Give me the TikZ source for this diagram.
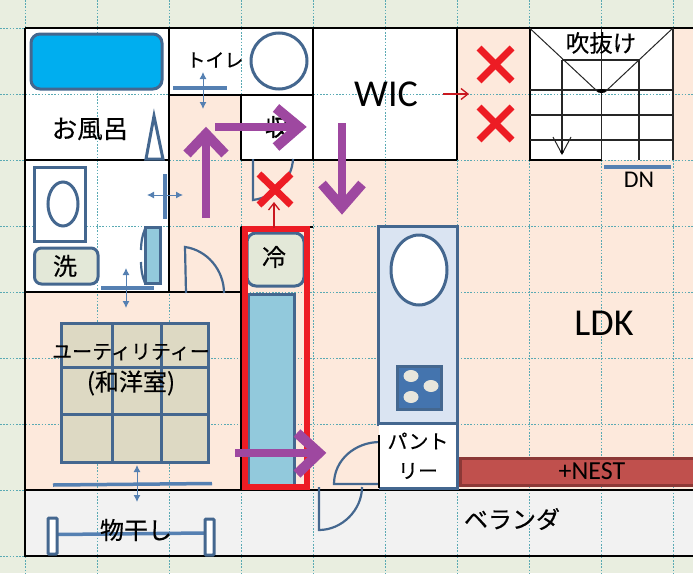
\documentclass[tikz,border=0pt]{standalone}
\usepackage{fontspec}
\setmainfont{Carlito}
\newfontfamily\jp[RawFeature={embolden=0.35}]{Noto Sans CJK JP}
\usetikzlibrary{arrows.meta}
\definecolor{bgc}{HTML}{E9EEE0}
\definecolor{peach}{HTML}{FDE9DC}
\definecolor{veranda}{HTML}{F2F2F2}
\definecolor{gridc}{HTML}{5AAAB4}
\definecolor{steel}{HTML}{44678F}
\definecolor{ablue}{HTML}{5580B2}
\definecolor{purp}{HTML}{9E48A0}
\definecolor{redx}{HTML}{ED1C24}
\definecolor{tub}{HTML}{00AEEF}
\definecolor{ltblue}{HTML}{92C9DC}
\definecolor{beige}{HTML}{E3E8D8}
\definecolor{tatami}{HTML}{DDD9C3}
\definecolor{kitch}{HTML}{DAE4F2}
\definecolor{stove}{HTML}{4474AE}
\definecolor{nest}{HTML}{C0504D}
\definecolor{nestd}{HTML}{8C3836}
\definecolor{burner}{HTML}{E8E6DC}
\tikzset{
  x=1pt,y=-1pt,
  wall/.style={draw=black,line width=2pt},
  gridline/.style={draw=gridc,line width=0.6pt,dash pattern=on 1.6pt off 1.6pt},
  fixture/.style={draw=steel,line width=3pt},
  thinblue/.style={draw=steel,line width=2.2pt},
  bluebar/.style={draw=ablue,line width=3.5pt},
  twoway/.style={draw=ablue,line width=1pt,{Latex[length=7pt,width=7pt]}-{Latex[length=7pt,width=7pt]}},
  purple/.style={draw=purp,line width=7.5pt},
  purplehead/.style={draw=purp,line width=10pt,miter limit=10},
  cross/.style={draw=redx,line width=7pt},
  stairline/.style={draw=black!85,line width=1.4pt},
  stairdiag/.style={draw=black!85,line width=1pt},
  redarrow/.style={draw=redx!85!black,line width=1.3pt,-{Straight Barb[length=7pt,width=11pt]}},
  lab/.style={inner sep=0pt,text=black,font=\jp\fontsize{#1}{#1}\selectfont},
  lat/.style={inner sep=0pt,text=black,font=\fontsize{#1}{#1}\selectfont}
}
\begin{document}
\begin{tikzpicture}
\useasboundingbox (0,0) rectangle (693,573);
% backgrounds
\fill[bgc] (0,0) rectangle (693,573);
\fill[peach] (25,28) rectangle (693,490);
\fill[white] (25,28) rectangle (169,292);
\fill[white] (169,28) rectangle (313,94.5);
\fill[white] (241,94.5) rectangle (457,160);
\fill[white] (313,28) rectangle (457,160);
\fill[white] (529,28) rectangle (673,160);
\fill[veranda] (25,490) rectangle (693,556);
% dotted grid
\foreach \gx in {25,97.5,169,241,313,385.5,457.5,529.5,601.5,673}
  \draw[gridline] (\gx,0) -- (\gx,573);
\foreach \gy in {28,94.5,160,226.5,292.5,358.5,424.5,490.5,556}
  \draw[gridline] (0,\gy) -- (693,\gy);
% walls
\draw[wall] (25,28) -- (693,28);
\draw[wall] (25,28) -- (25,556) -- (693,556);
\draw[wall] (169,28) -- (169,292);
\draw[wall] (169,94.5) -- (313,94.5);
\draw[wall] (241,94.5) -- (241,160);
\draw[wall] (313,28) -- (313,160);
\draw[wall] (25,160) -- (169,160);
\draw[wall] (241,160) -- (457,160);
\draw[wall] (457,28) -- (457,160);
\draw[wall] (25,292) -- (241,292);
\draw[wall] (241,226.5) -- (241,490);
\draw[wall] (241,226.5) -- (313,226.5);
\draw[wall] (25,490) -- (693,490);
% stairs
\draw[wall] (529.5,28) -- (529.5,160) -- (601.5,160);
\draw[stairline] (673,28) -- (673,160);
\draw[stairline] (601.5,28) -- (601.5,160);
\draw[stairline] (562,60) -- (562,154);
\draw[stairline] (639,60) -- (639,160);
\draw[stairline] (562,60) -- (639,60);
\draw[stairline] (529.5,90) -- (673,90);
\draw[stairline] (529.5,115) -- (673,115);
\draw[stairline] (529.5,140) -- (673,140);
\draw[stairdiag] (529.5,28) -- (597,91);
\draw[stairdiag] (673,28) -- (606,91);
\draw[stairdiag] (553,137) -- (562,154) -- (571,137);
\fill[black] (601.5,91) ellipse (5 and 2);
\fill[black] (562,152) circle (1.8);
% bath
\draw[fixture,fill=tub,rounded corners=9pt] (31,34) rectangle (162,89);
\draw[fixture,fill=white] (146,159) -- (154,116) -- (163,159) -- cycle;
% toilet
\draw[fixture,fill=white] (279,61) circle (28);
\draw[bluebar] (173,88) -- (227,88);
\draw[twoway] (203,72) -- (203,109);
% wash room
\draw[fixture,fill=white] (34.5,167.5) rectangle (85,241);
\draw[fixture,fill=white] (63,204) ellipse (15 and 22);
\draw[fixture,fill=beige,rounded corners=7pt] (34.5,248) rectangle (98,284);
\draw[fixture,fill=ltblue] (145.5,227.5) rectangle (160,283);
\draw[thinblue] (145,229) .. controls (142,236) and (141,243) .. (141,250);
\draw[thinblue] (141,262) .. controls (141,269) and (142,276) .. (145,283);
\draw[bluebar] (101,288) -- (154,288);
\draw[twoway] (126,268) -- (126,308);
\draw[bluebar] (165,174) -- (165,219);
\draw[twoway] (147,195) -- (183,195);
% doors
\draw[thinblue] (186,293) -- (185,247) .. controls (207,250) and (224,270) .. (224,293);
\draw[thinblue] (293,159) .. controls (292,180) and (275,197) .. (253,200) -- (253,159);
\draw[thinblue] (378,484) -- (334,484) .. controls (334,460) and (355,442) .. (380,442);
\draw[thinblue] (319,487) -- (319,530) .. controls (342,530) and (362,510) .. (362,487);
% fridge column
\draw[fixture,fill=ltblue] (248,294.5) rectangle (294,487);
\draw[fixture,fill=beige,rounded corners=9pt] (247,233) rectangle (304,286);
\draw[draw=redx,line width=5.5pt] (245,229) rectangle (307,487);
% kitchen
\draw[fixture,line width=3.2pt,fill=kitch] (378.5,226.5) rectangle (457.5,424);
\draw[fixture,fill=white] (419,270) ellipse (28 and 35);
\draw[fixture,fill=stove] (397.5,366) rectangle (441,409);
\fill[burner] (411,376) ellipse (7.5 and 6);
\fill[burner] (431,386) ellipse (7.5 and 6);
\fill[burner] (411,397) ellipse (7.5 and 6);
% pantry
\fill[white] (379,425) rectangle (457,488);
\draw[fixture] (457.5,425) -- (457.5,488) -- (378.5,488);
\draw[draw=black,line width=2pt] (378.5,435) -- (378.5,488);
% +NEST
\draw[draw=nestd,line width=2.5pt,fill=nest] (460.5,458.5) rectangle (695,485.5);
% DN bar
\draw[bluebar] (604,167) -- (671,167);
% tatami
\draw[fixture,fill=tatami] (61,323) rectangle (208,462);
\draw[fixture] (112.5,323) -- (112.5,462);
\draw[fixture] (161.5,323) -- (161.5,462);
\draw[fixture] (61,367) -- (208,367);
\draw[fixture] (61,414) -- (208,414);
\draw[bluebar] (53,485) -- (212,483.5);
\draw[twoway] (137,465) -- (137,502);
% drying rack
\draw[bluebar] (57,534.5) -- (205,533);
\draw[fixture,fill=white,rounded corners=1pt] (48,518) rectangle (57,554);
\draw[fixture,fill=white,rounded corners=1pt] (205,519) rectangle (214,555);
% labels
\node[lab=25.5] (bath) at (90,129) {お風呂};
\node[lab=19] (toilet) at (215,60) {トイレ};
\node[lab=24] (storage) at (277,127) {収};
\node[lat=38] (wic) at (386,94) {WIC};
\node[lab=23.5] (void) at (601,43) {吹抜け};
\node[lat=24] (dn) at (639,180) {DN};
\node[lab=24] (washer) at (65,266) {洗};
\node[lab=24] (fridge) at (274,257) {冷};
\node[lab=20] (utility) at (131,352) {ユーティリティー};
\node[lab=24] (japanese) at (131,383) {(和洋室)};
\node[lat=38] (ldk) at (604,323) {LDK};
\node[lab=20] (pan) at (418,441) {パント};
\node[lab=20] (try) at (418,471) {リー};
\node[lat=26] (nestlabel) at (592,471) {+NEST};
\node[lab=24] (dry) at (136,530) {物干し};
\node[lab=24] (balcony) at (512,519) {ベランダ};
% purple arrows
\coordinate (upA) at (206,218); \coordinate (upB) at (206,135);
\draw[purple] (upA) -- (upB);
\draw[purplehead] (187,154) -- (206,134) -- (225,154);
\coordinate (rtA) at (215,127); \coordinate (rtB) at (298,127);
\draw[purple] (rtA) -- (rtB);
\draw[purplehead] (276,108) -- (299,127) -- (276,147);
\coordinate (dnA) at (342,123); \coordinate (dnB) at (342,206);
\draw[purple] (dnA) -- (dnB);
\draw[purplehead] (322,184) -- (342,207) -- (362,184);
\coordinate (rcA) at (235,453); \coordinate (rcB) at (318,453);
\draw[purple] (rcA) -- (rcB);
\draw[purplehead] (297,433) -- (319,453) -- (297,474);
% red crosses
\draw[cross] (259,174) -- (291,205);
\draw[cross] (259,205) -- (291,174);
\draw[cross] (479,48) -- (512,81);
\draw[cross] (479,81) -- (512,48);
\draw[cross] (479,107) -- (512,140);
\draw[cross] (479,140) -- (512,107);
\coordinate (raA) at (274,228); \coordinate (raB) at (274,202);
\draw[redarrow] (raA) -- (raB);
\coordinate (rbA) at (443,94); \coordinate (rbB) at (469,94);
\draw[redarrow] (rbA) -- (rbB);
\end{tikzpicture}
\end{document}
